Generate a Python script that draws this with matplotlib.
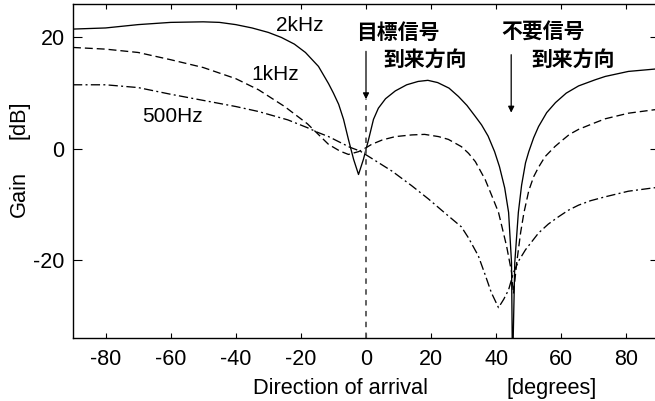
import matplotlib
matplotlib.use('Agg')
import matplotlib.pyplot as plt

# values
deg_2k = [-90, -80, -70, -60, -50, -45, -40, -35, -30, -26, -22, -18.6, -14.6, -11.5, -10, -8.4,
          -6.9, -5.4, -3.8, -2.3, -0.8, 0.8, 2.3, 3.8, 6, 9, 12.5, 16, 19, 22, 25.5, 28.4, 31,
          33.6, 35.5, 37.5, 39.5, 41, 42.6, 43.8, 44.7, 45, 45.7, 46.8, 47.8, 49, 50, 51.5, 53,
          55.5, 58.2, 61.5, 65.3, 70.4, 73.5, 80.6, 88.3, 90]
gain_2k = [21.5, 21.7, 22.3, 22.7, 22.8, 22.7, 22.3, 21.7, 20.9, 20.0, 18.8, 17.3, 14.8, 11.7, 10.0, 8.0,
           5.3, 1.7, -1.9, -4.6, -1.9, 1.7, 5.3, 7.3, 9.0, 10.4, 11.5, 12.1, 12.3, 11.9, 10.9, 9.4, 7.8,
           5.8, 4.3, 2.3, -0.5, -3.2, -7.0, -11.4, -20.4, -40.0, -20.4, -11.4, -6.5, -2.5, -0.5, 2.0, 4.0,
           6.5, 8.3, 10.0, 11.3, 12.4, 13.0, 13.9, 14.3, 14.4]

deg_1k = [-90, -80, -70, -60, -50, -40, -33, -25, -18, -15, -11.5, -8, -5.4, -2.3, 0, 1.7, 5, 9,
          14, 18, 22.3, 25.3, 29.3, 31.5, 33.6, 36.6, 38.5, 40.7, 43.2, 44.7, 45.3, 46.3, 47.5,
          48.5, 50, 51.5, 53, 55, 58, 60, 62.5, 65.3, 70.4, 73.5, 80.6, 88.3, 90]
gain_1k = [18.2, 17.9, 17.3, 16.0, 14.6, 12.6, 10.6, 7.6, 4.5, 2.8, 0.8, -0.4, -1.0, -0.5, 0.2, 0.8, 1.6, 2.2,
           2.5, 2.6, 2.2, 1.7, 0.4, -0.8, -2.3, -5.5, -8.2, -11.4, -17.5, -22.1, -26.0, -20.4, -15.0,
           -11.5, -7.5, -5.0, -3.3, -1.4, 0.4, 1.4, 2.6, 3.5, 4.7, 5.4, 6.4, 7.0, 7.1]

deg_500 = [-90, -80, -70, -60, -50, -40, -33, -24, -18, -15, -11.5, -5, -1.8, 2, 8, 14, 19.2, 24,
           29.3, 31.5, 34.5, 36.6, 38.5, 40.7, 42.3, 43.8, 45.3, 47, 49, 53, 56, 59.1, 62.2, 65.3,
           69, 73.5, 80.6, 88.3, 90]
gain_500 = [11.5, 11.5, 11.0, 9.8, 8.7, 7.6, 6.7, 5.2, 3.8, 3.0, 2.2, 0.3, -0.4, -1.8, -4.0, -6.6, -9.0, -11.4,
            -14.0, -16.0, -19.2, -22.6, -25.8, -28.5, -27.0, -25.3, -22.2, -20.0, -18.1, -15.1, -13.5,
            -12.2, -11.0, -10.1, -9.3, -8.6, -7.6, -7.0, -6.9]

x_ticks = [-80, -60, -40, -20, 0, 20, 40, 60, 80]
y_ticks = [-20, 0, 20]

target_deg = 0
noise_deg = 44.6

plt.rcParams['font.family'] = ['Liberation Sans', 'DejaVu Sans']
jp_font = ['Noto Sans CJK JP', 'DejaVu Sans']


def generate_gain_plot():
  fig = plt.figure(figsize=(6.55, 4.01), dpi=100)
  ax = fig.add_axes([73 / 655, 62.7 / 401, 586 / 655, 334.3 / 401])

  ax.plot(deg_2k, gain_2k, color='black', lw=0.95, ls='-')
  ax.plot(deg_1k, gain_1k, color='black', lw=0.95, ls=(0, (6, 3)))
  ax.plot(deg_500, gain_500, color='black', lw=0.95, ls=(0, (7, 2.5, 1.5, 2.5)))

  ax.set_xlim(-90, 90)
  ax.set_ylim(-34, 26)

  # dashed marker for the target direction, below the arrow
  ax.plot([target_deg, target_deg], [-34, 8.9], color='#555555', lw=1.3, ls=(0, (3, 3)))

  arrow = dict(arrowstyle='-|>', color='black', lw=0.9, mutation_scale=9, shrinkA=0, shrinkB=0)
  ax.annotate('', xy=(target_deg, 8.9), xytext=(target_deg, 17.5), arrowprops=arrow)
  ax.annotate('', xy=(noise_deg, 6.5), xytext=(noise_deg, 16.9), arrowprops=arrow)

  ax.text(-27.5, 21.1, '2kHz', fontsize=15, va='baseline', ha='left')
  ax.text(-35.2, 12.4, '1kHz', fontsize=15, va='baseline', ha='left')
  ax.text(-68.9, 4.9, '500Hz', fontsize=15, va='baseline', ha='left')

  ax.text(-3.2, 19.7, '目標信号', family=jp_font, fontweight='bold', fontsize=15, va='baseline', ha='left')
  ax.text(5.4, 14.9, '到来方向', family=jp_font, fontweight='bold', fontsize=15, va='baseline', ha='left')
  ax.text(41.6, 19.7, '不要信号', family=jp_font, fontweight='bold', fontsize=15, va='baseline', ha='left')
  ax.text(50.8, 14.9, '到来方向', family=jp_font, fontweight='bold', fontsize=15, va='baseline', ha='left')

  ax.set_xticks(x_ticks)
  ax.set_yticks(y_ticks)
  ax.set_xticklabels([str(v) for v in x_ticks])
  ax.set_yticklabels([str(v) for v in y_ticks])
  ax.tick_params(axis='both', direction='in', labelsize=15.5, width=0.8, colors='black')
  ax.tick_params(axis='x', top=True, length=3.5, pad=8)
  ax.tick_params(axis='y', right=True, length=6.5, pad=6)
  for spine in ax.spines.values():
    spine.set_linewidth(1.0)

  fig.text(253 / 655, (401 - 394) / 401, 'Direction of arrival', fontsize=15.7, ha='left', va='baseline')
  fig.text(507 / 655, (401 - 394) / 401, '[degrees]', fontsize=15.7, ha='left', va='baseline')
  fig.text(19 / 655, (401 - 194) / 401, 'Gain', fontsize=15.7, rotation=90, ha='center', va='center')
  fig.text(19 / 655, (401 - 120) / 401, '[dB]', fontsize=15.7, rotation=90, ha='center', va='center')

  fig.savefig('out.png', dpi=100)
  plt.close(fig)


generate_gain_plot()
